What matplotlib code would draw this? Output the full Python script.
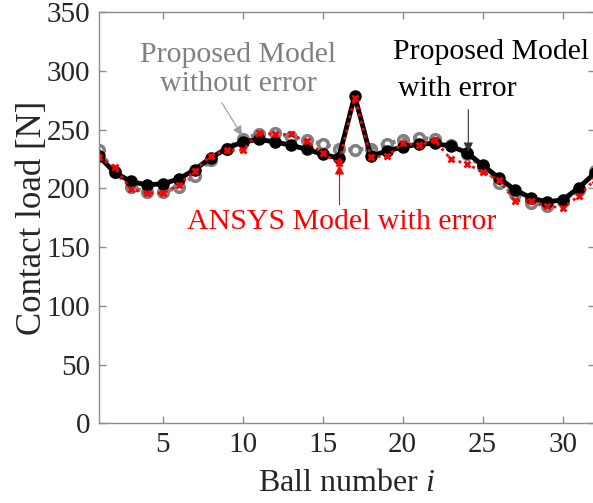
import numpy as np
import matplotlib.pyplot as plt

plt.rcParams['font.family'] = ['Liberation Serif', 'DejaVu Serif']
plt.rcParams['mathtext.fontset'] = 'custom'
plt.rcParams['mathtext.it'] = 'Liberation Serif:italic'

ball = np.arange(1, 33)

# contact load [N] per ball
load_no_err = [232.6, 214, 201, 197, 197, 201, 211, 224, 234, 242.5, 246, 246.8,
               244, 241, 238, 234, 233, 234, 238, 241.5, 243, 242, 237, 229,
               218, 205, 195, 188, 185, 189, 199, 215]
load_err = [227.5, 213.6, 206, 203, 204, 208, 216, 226, 234, 239.7, 241.7, 239.7,
            236.8, 233.4, 229, 226, 279, 227.5, 231.7, 235.4, 237.7, 238.3, 236, 230.6,
            219.8, 209, 199, 192, 188.5, 190.3, 200.5, 213]
load_ansys = [226.6, 218, 199.5, 196, 196, 203, 215, 228, 232.6, 232.6, 247.5, 246,
              246, 240, 230, 221.5, 277, 227, 227.5, 238.8, 236.8, 241, 225, 221,
              214, 207.6, 189.5, 189.5, 185, 183.5, 193.5, 207.5]

fig = plt.figure(figsize=(5.93, 5.03), dpi=100)
ax = fig.add_axes([0.1664, 0.1585, 0.8365, 0.817])

ax.plot(ball, load_no_err, ':', color='#808080', lw=3, marker='o', ms=7,
        mfc='none', mec='#808080', mew=2.5)
ax.plot(ball, load_err, '-', color='black', lw=3.5, marker='o', ms=8,
        mfc='black', mec='black')
ax.plot(ball, load_ansys, ':', color='red', lw=2, marker='x', ms=5, mew=2)

ax.set_xlim(1, 32)
ax.set_ylim(0, 350)
ax.set_xticks([5, 10, 15, 20, 25, 30])
ax.set_yticks(np.arange(0, 351, 50))

for s in ax.spines.values():
    s.set_color('#8c8c8c')
    s.set_linewidth(1)
ax.tick_params(direction='in', top=True, right=True, length=5, width=1,
               color='#8c8c8c', labelsize=21, labelcolor='#262626', pad=6)

ax.set_xlabel('Ball number $i$', fontsize=23, color='#262626', labelpad=8)
ax.set_ylabel('Contact load [N]', fontsize=25, color='#262626', labelpad=-2)

arrow = dict(arrowstyle='-|>', lw=0.8, shrinkA=0, shrinkB=0, mutation_scale=14)

# labels and pointers
ax.text(9.7, 301, 'Proposed Model\nwithout error', ha='center', va='center',
        fontsize=21.5, color='#808080', linespacing=1.15)
ax.annotate('', xy=(9.96, 245), xytext=(8.7, 273),
            arrowprops=dict(arrow, color='#9a9a9a'))

ax.text(19.4, 316, 'Proposed Model', ha='left', va='center', fontsize=21.5,
        color='black')
ax.text(19.7, 285, 'with error', ha='left', va='center', fontsize=21.5,
        color='black')
ax.annotate('', xy=(24.1, 231), xytext=(24.1, 267),
            arrowprops=dict(arrow, color='#333333'))

ax.text(16.2, 171.5, 'ANSYS Model with error', ha='center', va='center',
        fontsize=21.5, color='red')
ax.annotate('', xy=(16.05, 220), xytext=(16.05, 186),
            arrowprops=dict(arrow, color='red'))

fig.savefig('out.png', dpi=100)
